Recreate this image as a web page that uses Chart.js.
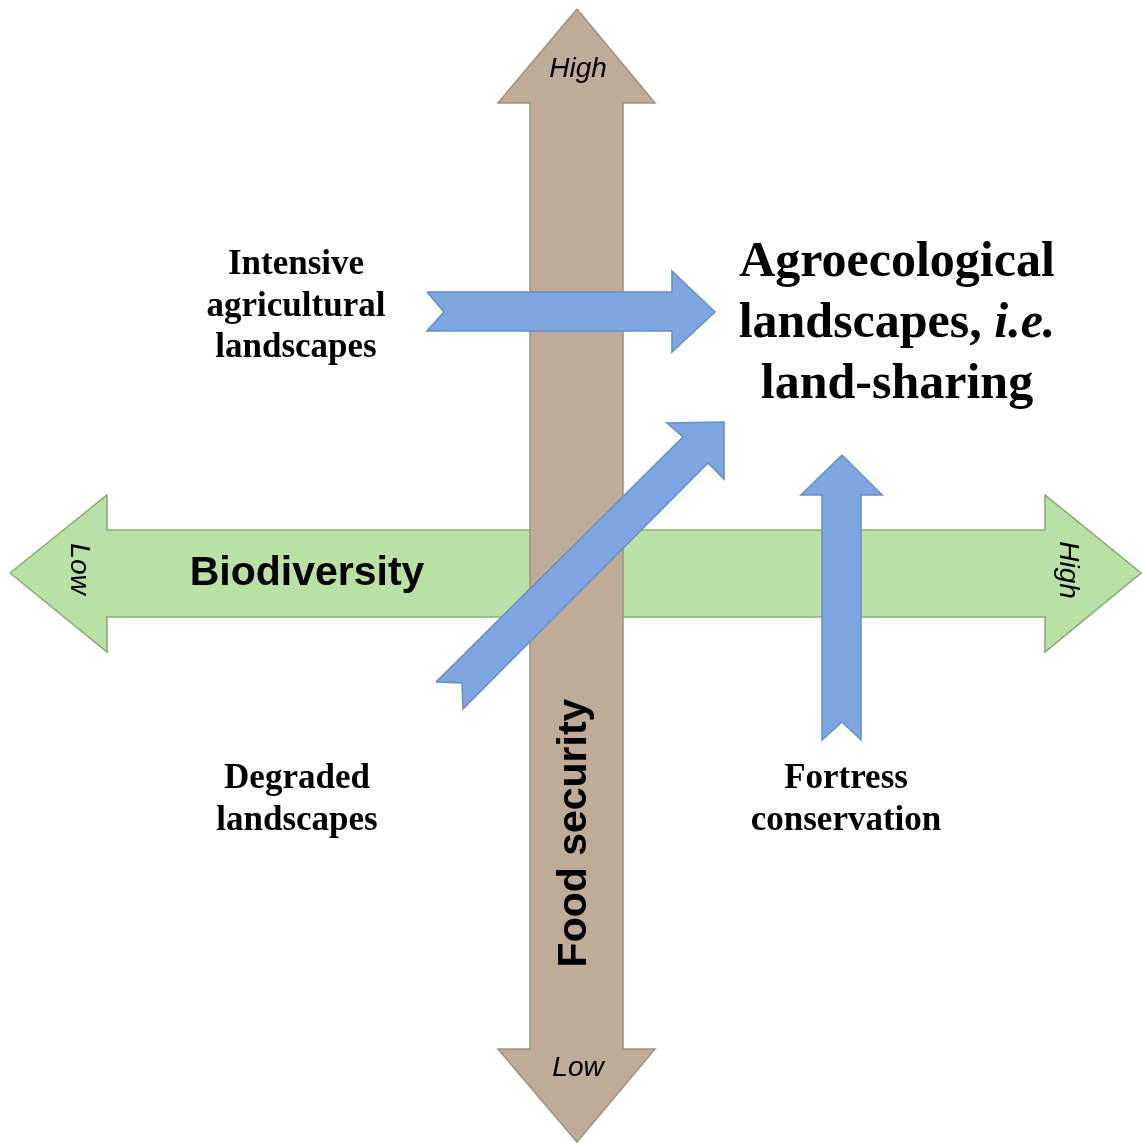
<!DOCTYPE html>
<html><head><meta charset="utf-8">
<script src="https://cdn.jsdelivr.net/npm/chart.js@4"></script>
<style>html,body{margin:0;padding:0;background:#fff;overflow:hidden}#wrap{width:1142px;height:1143px}</style>
</head><body><div id="wrap"><canvas id="c" width="1142" height="1143"></canvas></div>
<script>
// Arrow outlines, in diagram units (x right, y down)
const foodSecurityArrow = [[577,9],[655,103],[623,103],[623,1049],[655,1049],[577,1142],[498,1049],[530,1049],[530,103],[498,103],[577,9]];
const biodiversityArrow = [[10,573],[107,495],[107,530],[1045,530],[1045,495],[1141,573],[1045,652],[1045,617],[107,617],[107,652],[10,573]];
const intensiveArrow = [[427,292],[672,292],[672,271],[715,312],[672,352],[672,331],[427,331],[444,312],[427,292]];
const degradedArrow = [[436,682],[683,437],[667,423],[724,422],[724,479],[708,463],[463,709],[462,683],[436,682]];
const fortressArrow = [[842,455],[882,495],[861,495],[861,740],[842,722],[822,740],[822,495],[801,495],[842,455]];

// Text
const axisEndLabels = ['High','Low','Low','High'];
const axisTitles = ['Biodiversity','Food security'];
const intensiveLines = ['Intensive','agricultural','landscapes'];
const agroLines = [['Agroecological'],['landscapes, ','i.e.'],['land-sharing']];
const degradedLines = ['Degraded','landscapes'];
const fortressLines = ['Fortress','conservation'];

const BROWN = '#bfab97', BROWN_E = '#a29380';
const GREEN = '#b9e0a5', GREEN_E = '#8cad78';
const BLUE = '#7ea6e0', BLUE_E = '#6a8fc4';

function ds(pts, fillC, edgeC, order){
  return {data: pts.map(p=>({x:p[0],y:p[1]})), showLine:true, fill:'shape',
    backgroundColor: fillC, borderColor: edgeC, borderWidth: 1.6, pointRadius:0,
    tension:0, borderJoinStyle:'miter', order: order};
}

const textPlugin = {
  id:'texts',
  afterDatasetsDraw(chart){
    const ctx = chart.ctx, X = chart.scales.x, Y = chart.scales.y;
    const px = v=>X.getPixelForValue(v), py = v=>Y.getPixelForValue(v);
    function txt(s, x, y, font, rot){
      ctx.save(); ctx.translate(px(x), py(y)); if(rot) ctx.rotate(rot);
      ctx.font = font; ctx.fillStyle = '#000'; ctx.textAlign='center'; ctx.textBaseline='middle';
      ctx.fillText(s, 0, 0); ctx.restore();
    }
    const itf = 'italic 28px "Liberation Sans", Arial, sans-serif';
    txt(axisEndLabels[0], 578, 69, itf, 0);
    txt(axisEndLabels[1], 578, 1068, itf, 0);
    txt(axisEndLabels[2], 79, 569, itf, Math.PI/2);
    txt(axisEndLabels[3], 1068, 570, itf, Math.PI/2);
    const bf = 'bold 41px "Liberation Sans", Arial, sans-serif';
    txt(axisTitles[0], 307, 574, bf, 0);
    txt(axisTitles[1], 575, 833, bf, -Math.PI/2);
    const sf = 'bold 35px "Liberation Serif", "Times New Roman", serif';
    intensiveLines.forEach((s,i)=>txt(s, 296, 265+i*41.5, sf, 0));
    degradedLines.forEach((s,i)=>txt(s, 297, 779+i*41.5, sf, 0));
    fortressLines.forEach((s,i)=>txt(s, 846, 779+i*41.5, sf, 0));
    // Agroecological block (mixed styles)
    const big = 'bold 50px "Liberation Serif", "Times New Roman", serif';
    const bigI = 'italic bold 50px "Liberation Serif", "Times New Roman", serif';
    agroLines.forEach((parts,i)=>{
      const yy = py(263+i*61);
      ctx.save(); ctx.fillStyle='#000'; ctx.textBaseline='middle'; ctx.textAlign='left';
      let w = 0; const fonts = parts.map((p,j)=> j===1 ? bigI : big);
      parts.forEach((p,j)=>{ctx.font=fonts[j]; w+=ctx.measureText(p).width;});
      let xx = px(897) - w/2;
      parts.forEach((p,j)=>{ctx.font=fonts[j]; ctx.fillText(p, xx, yy); xx+=ctx.measureText(p).width;});
      ctx.restore();
    });
  }
};

new Chart(document.getElementById('c'), {
  type:'scatter',
  data:{datasets:[
    ds(degradedArrow, BLUE, BLUE_E, 1),
    ds(intensiveArrow, BLUE, BLUE_E, 2),
    ds(fortressArrow, BLUE, BLUE_E, 3),
    ds(foodSecurityArrow, BROWN, BROWN_E, 4),
    ds(biodiversityArrow, GREEN, GREEN_E, 5)
  ]},
  options:{
    responsive:false, animation:false, devicePixelRatio:1,
    layout:{padding:0},
    plugins:{legend:{display:false}, tooltip:{enabled:false}},
    scales:{
      x:{type:'linear', min:0, max:1142, display:false},
      y:{type:'linear', min:0, max:1143, reverse:true, display:false}
    }
  },
  plugins:[textPlugin]
});
</script></body></html>
